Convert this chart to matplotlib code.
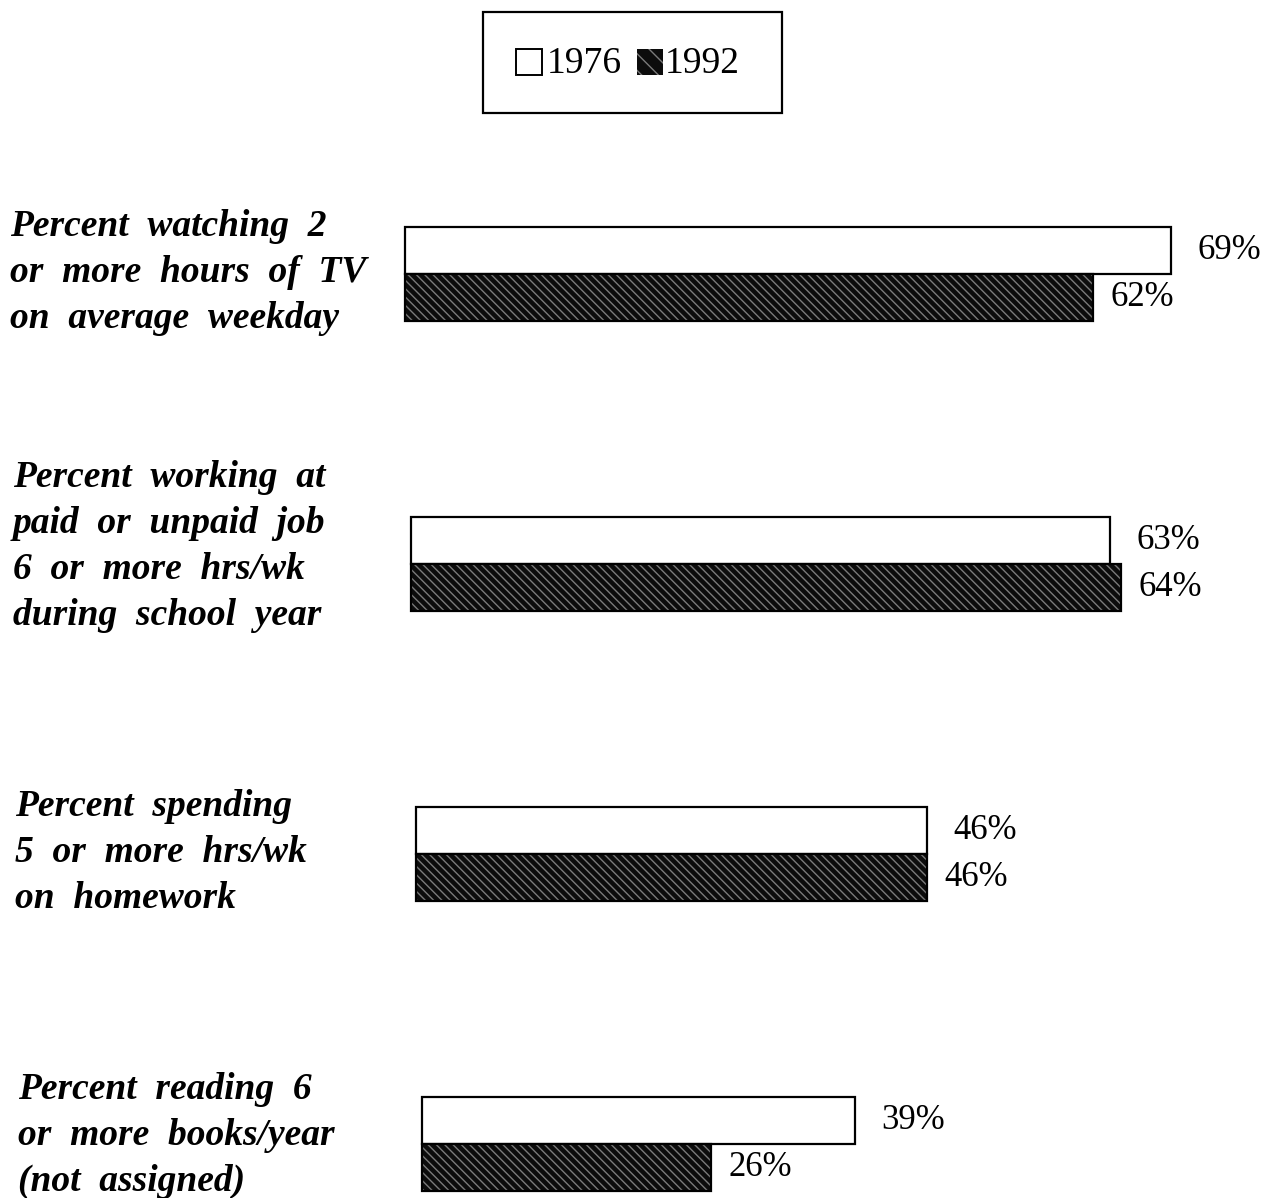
import matplotlib.pyplot as plt
from matplotlib.patches import Rectangle
from matplotlib.transforms import blended_transform_factory

# survey items and percentages for the two cohorts
categories = [
    "Percent  watching  2\nor  more  hours  of  TV\non  average  weekday",
    "Percent  working  at\npaid  or  unpaid  job\n6  or  more  hrs/wk\nduring  school  year",
    "Percent  spending\n5  or  more  hrs/wk\non  homework",
    "Percent  reading  6\nor  more  books/year\n(not  assigned)",
]
years = ["1976", "1992"]
pct_1976 = [69, 63, 46, 39]
pct_1992 = [62, 64, 46, 26]

serif = "Liberation Serif"
bar_h = 0.162
shift = 0.51  # the bars creep right a little from one row to the next

fig = plt.figure(figsize=(12.73, 11.98), dpi=100)
ax = fig.add_axes([0, 0, 1, 1])
ax.set_xlim(-36.5, 78.2)
ax.set_ylim(3.186, -0.945)
ax.axis("off")

for i, (a, b) in enumerate(zip(pct_1976, pct_1992)):
    left = shift * i
    # 1976: plain white bar
    ax.barh(i - bar_h / 2, a, height=bar_h, left=left, color="white",
            edgecolor="black", linewidth=1.6)
    # 1992: black bar with a light diagonal screen
    ax.barh(i + bar_h / 2, b, height=bar_h, left=left, color="#0c0c0c",
            edgecolor="#7a7a7a", hatch="\\\\\\\\", linewidth=0)
    ax.barh(i + bar_h / 2, b, height=bar_h, left=left, color="none",
            edgecolor="black", linewidth=1.6)
    ax.text(left + a + 2.4, i - bar_h / 2, f"{a}%", fontsize=25,
            family=serif, va="center", ha="left")
    ax.text(left + b + 1.6, i + bar_h / 2, f"{b}%", fontsize=25,
            family=serif, va="center", ha="left")

tr = blended_transform_factory(ax.transAxes, ax.transData)
label_dy = [-0.005, -0.06, -0.005, -0.03]
for i, cat in enumerate(categories):
    ax.text(0.008 + 0.002 * i, i + label_dy[i], cat, transform=tr,
            fontsize=27, family=serif, style="italic", weight="bold",
            va="center", ha="left", linespacing=1.4)

# legend box at the top
fig.patches.append(Rectangle((483 / 1273, 1 - 113 / 1198), 299 / 1273, 101 / 1198,
                             transform=fig.transFigure, facecolor="white",
                             edgecolor="black", linewidth=1.6))
sq = 26
fig.patches.append(Rectangle((516 / 1273, 1 - 75 / 1198), sq / 1273, sq / 1198,
                             transform=fig.transFigure, facecolor="white",
                             edgecolor="black", linewidth=1.4))
fig.patches.append(Rectangle((637 / 1273, 1 - 75 / 1198), sq / 1273, sq / 1198,
                             transform=fig.transFigure, facecolor="#0c0c0c",
                             edgecolor="#7a7a7a", hatch="\\\\", linewidth=0))
fig.text(547 / 1273, 1 - 64 / 1198, years[0], fontsize=27, family=serif,
         va="center", ha="left")
fig.text(665 / 1273, 1 - 64 / 1198, years[1], fontsize=27, family=serif,
         va="center", ha="left")

fig.savefig("out.png", dpi=100, facecolor="white")
